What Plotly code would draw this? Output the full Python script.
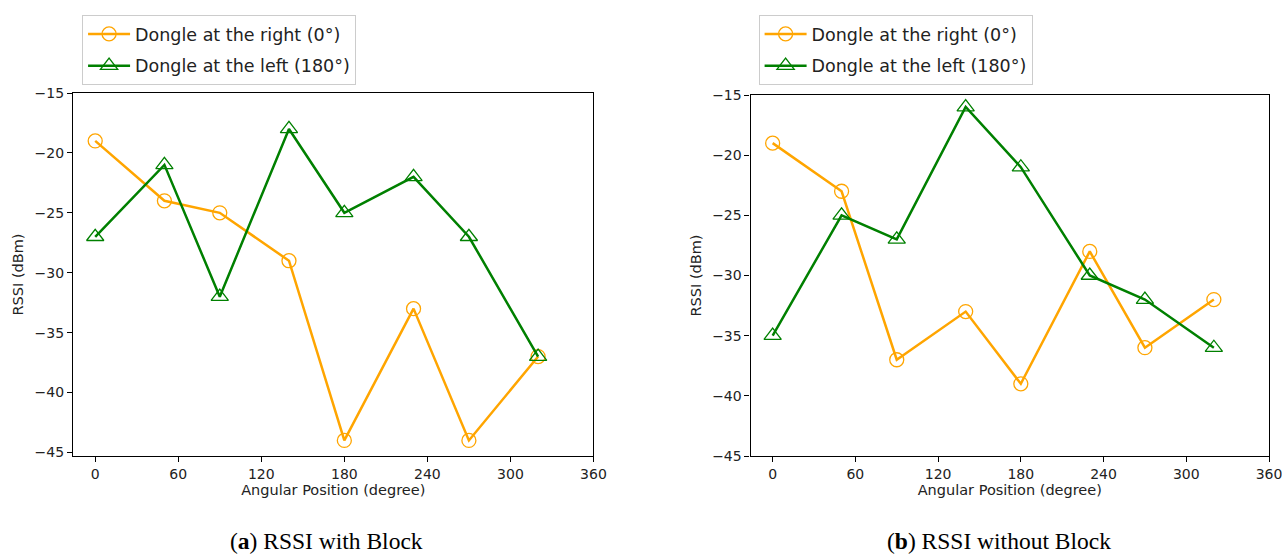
import plotly.graph_objects as go

angles = [0, 50, 90, 140, 180, 230, 270, 320]
a_right = [-19, -24, -25, -29, -44, -33, -44, -37]
a_left = [-27, -21, -32, -18, -25, -22, -27, -37]
b_right = [-19, -23, -37, -33, -39, -28, -36, -32]
b_left = [-35, -25, -27, -16, -21, -30, -32, -36]

x_ticks = [0, 60, 120, 180, 240, 300, 360]
y_ticks = [-45, -40, -35, -30, -25, -20, -15]
name_right = "Dongle at the right (0°)"
name_left = "Dongle at the left (180°)"
captions = ["(<b>a</b>) RSSI with Block", "(<b>b</b>) RSSI without Block"]

ORANGE = "#FFA500"
GREEN = "#008000"
W, H = 1282, 554
# observed drawing area of the page (paper) in the viewer
PW, PH, OY = 1268.0, 538.0, 8.0


def fx(px):
    return min(1.0, max(0.0, px / PW))


def fy(py):
    return min(1.0, max(0.0, 1 - (py - OY) / PH))


fig = go.Figure()


def add_pair(right, left, xa, ya, leg, grp):
    fig.add_trace(go.Scatter(
        x=angles, y=right, mode="lines+markers", name=name_right,
        line=dict(color=ORANGE, width=2.5),
        marker=dict(symbol="circle-open", size=14, color=ORANGE, line=dict(width=1.3)),
        xaxis=xa, yaxis=ya, legend=leg, legendgroup=grp + "r"))
    fig.add_trace(go.Scatter(
        x=angles, y=left, mode="lines+markers", name=name_left,
        line=dict(color=GREEN, width=2.5),
        marker=dict(symbol="triangle-up-open", size=15, color=GREEN, line=dict(width=1.3)),
        xaxis=xa, yaxis=ya, legend=leg, legendgroup=grp + "l"))


add_pair(a_right, a_left, "x", "y", "legend", "a")
add_pair(b_right, b_left, "x2", "y2", "legend2", "b")

tick_font = dict(family="DejaVu Sans", size=14, color="#222")
title_font = dict(family="DejaVu Sans", size=14.5, color="#222")
common_x = dict(range=[-16, 360], tickvals=x_ticks, ticks="outside", ticklen=5,
                tickcolor="black", showline=True, linecolor="black", linewidth=1.2,
                mirror=True, showgrid=False, zeroline=False, tickfont=tick_font,
                ticklabeloverflow="allow",
                title=dict(text="Angular Position (degree)", font=title_font, standoff=3))
common_y = dict(tickvals=y_ticks, ticks="outside", ticklen=5,
                tickcolor="black", showline=True, linecolor="black", linewidth=1.2,
                mirror=True, showgrid=False, zeroline=False, tickfont=tick_font,
                title=dict(text="RSSI (dBm)", font=title_font, standoff=7))

legend_common = dict(font=dict(family="DejaVu Sans", size=17.5, color="#222"),
                     bordercolor="#cccccc", borderwidth=1, bgcolor="white",
                     xanchor="left", yanchor="top", tracegroupgap=6,
                     itemwidth=42)

fig.update_layout(
    width=W, height=H,
    margin=dict(l=0, r=0, t=0, b=0),
    paper_bgcolor="white", plot_bgcolor="white",
    xaxis=dict(domain=[fx(73), fx(593)], anchor="y", **common_x),
    yaxis=dict(domain=[fy(456), fy(93)], anchor="x", range=[-45.3, -15], **common_y),
    xaxis2=dict(domain=[fx(750), fx(1270)], anchor="y2", **common_x),
    yaxis2=dict(domain=[fy(456), fy(95)], anchor="x2", range=[-45, -15], **common_y),
    legend=dict(x=fx(82), y=fy(15), **legend_common),
    legend2=dict(x=fx(758), y=fy(15), **legend_common),
    showlegend=True,
)

for cx, text in zip([326, 998], captions):
    fig.add_annotation(x=fx(cx), y=fy(541), xref="paper", yref="paper",
                       text=text, showarrow=False, xanchor="center", yanchor="middle",
                       font=dict(family="Liberation Serif", size=23.5, color="black"))

fig.write_html("out.html")
